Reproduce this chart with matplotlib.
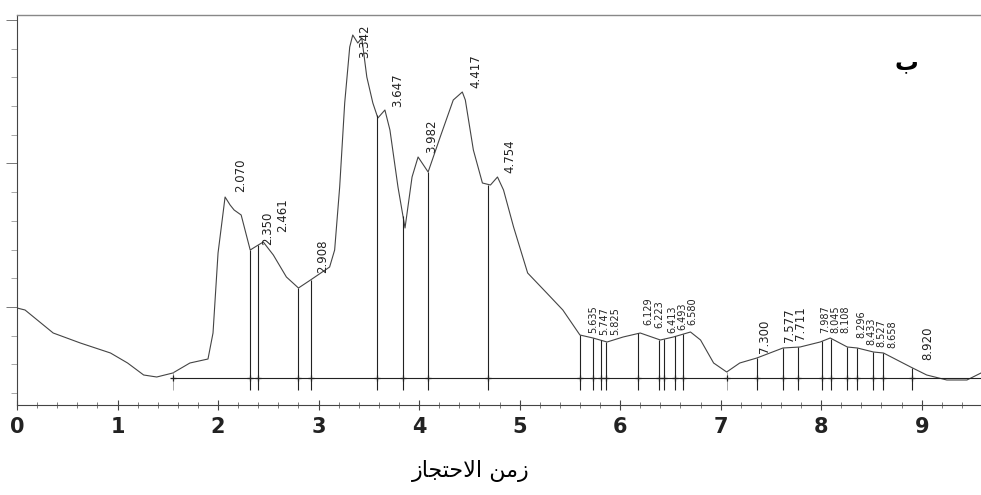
import numpy as np
import matplotlib
matplotlib.use('Agg')
import matplotlib.pyplot as plt
from matplotlib.ticker import MultipleLocator, NullFormatter

# chromatogram trace (time in min, signal in arbitrary units)
time = [0.00, 0.08, 0.36, 0.63, 0.93, 1.10, 1.26, 1.39, 1.55, 1.72, 1.90, 1.95,
        2.00, 2.07, 2.12, 2.16, 2.23, 2.32, 2.40, 2.45, 2.55, 2.68, 2.80, 2.92,
        3.11, 3.16, 3.21, 3.26, 3.31, 3.34, 3.39, 3.43, 3.48, 3.54, 3.59, 3.66,
        3.71, 3.79, 3.86, 3.93, 3.99, 4.09, 4.21, 4.34, 4.43, 4.46, 4.54, 4.63,
        4.71, 4.78, 4.84, 4.94, 5.08, 5.27, 5.43, 5.60, 5.73, 5.87, 6.03, 6.20,
        6.40, 6.53, 6.70, 6.80, 6.93, 7.06, 7.19, 7.36, 7.62, 7.79, 7.99, 8.09,
        8.26, 8.36, 8.52, 8.62, 8.89, 9.05, 9.25, 9.45, 9.59]
signal = [97, 95, 72, 62, 52, 42, 30, 28, 32, 42, 46, 72,
          152, 208, 200, 195, 190, 155, 160, 163, 150, 128, 117, 125,
          138, 155, 218, 302, 358, 370, 362, 367, 328, 302, 287, 295,
          275, 218, 177, 228, 248, 233, 268, 305, 313, 305, 255, 222,
          220, 228, 215, 178, 132, 112, 95, 70, 67, 63, 68, 72,
          65, 68, 73, 65, 42, 33, 42, 47, 57, 58, 63, 67,
          58, 57, 53, 52, 38, 30, 25, 25, 32]

# integration drop lines and baseline
drop_times = [2.32, 2.40, 2.80, 2.92, 3.58, 3.84, 4.09, 4.69, 5.60, 5.73, 5.81,
              5.86, 6.18, 6.39, 6.44, 6.55, 6.63, 7.36, 7.62, 7.77, 8.01, 8.10,
              8.26, 8.36, 8.52, 8.62, 8.90]
extra_marks = [1.55, 7.06]
baseline_level = 27
baseline_start = 1.55

# peak retention time labels: text, x position, y of label foot
peak_labels = ['2.070', '2.350', '2.461', '2.908', '3.342', '3.647', '3.982',
               '4.417', '4.754', '5.635', '5.747', '5.825', '6.129', '6.223',
               '6.413', '6.493', '6.580', '7.300', '7.577', '7.711', '7.987',
               '8.045', '8.108', '8.296', '8.433', '8.527', '8.658', '8.920']
label_x = [2.22, 2.49, 2.64, 3.04, 3.46, 3.79, 4.13, 4.56, 4.90, 5.73, 5.84,
           5.95, 6.28, 6.39, 6.52, 6.62, 6.72, 7.44, 7.68, 7.79, 8.04, 8.14,
           8.24, 8.40, 8.50, 8.60, 8.71, 9.06]
label_y = [213, 160, 173, 132, 347, 298, 252, 317, 232, 72, 70, 70, 80, 77,
           72, 75, 80, 52, 63, 65, 72, 72, 72, 67, 60, 58, 57, 45]
dense = {'5.635', '5.747', '5.825', '6.129', '6.223', '6.413', '6.493', '6.580',
         '7.987', '8.045', '8.108', '8.296', '8.433', '8.527', '8.658'}

# "زمن الاحتجاز" written in shaped presentation forms, visual order
xlabel_text = '\ufeaf\ufe8e\ufea0\ufe98\ufea3\ufefb\ufe8d \ufee6\ufee3\ufeaf'
panel_tag = 'ب'

fig = plt.figure(figsize=(9.81, 4.95), dpi=100)
ax = fig.add_axes([17 / 981, 90 / 495, 1 - 17 / 981, 390 / 495])

ax.plot(time, signal, color='#444444', lw=0.8)

tops = np.interp(drop_times, time, signal)
ax.vlines(drop_times, 15, tops, color='#222222', lw=0.8)
ax.hlines(baseline_level, baseline_start, 9.59, color='#222222', lw=0.8)
ax.vlines(extra_marks, 15, baseline_level + 6, color='#999999', lw=0.6)
ax.plot(drop_times + extra_marks, [baseline_level] * (len(drop_times) + len(extra_marks)),
        linestyle='none', marker='+', color='#222222', ms=5, mew=0.9)

for txt, x, y in zip(peak_labels, label_x, label_y):
    ax.text(x, y, txt, rotation=90, ha='center', va='bottom',
            fontsize=7 if txt in dense else 8.5, color='#222222')

ax.text(8.85, 343, panel_tag, fontsize=17, fontweight='bold',
        family=['DejaVu Sans'], ha='center', va='center')

ax.set_xlim(0, 9.59)
ax.set_ylim(0, 390)

ax.spines['right'].set_visible(False)
ax.spines['top'].set_color('#888888')
ax.spines['top'].set_linewidth(1.0)
ax.spines['left'].set_color('#444444')
ax.spines['bottom'].set_color('#444444')
ax.spines['left'].set_linewidth(0.8)
ax.spines['bottom'].set_linewidth(0.8)

ax.xaxis.set_major_locator(MultipleLocator(1))
ax.xaxis.set_minor_locator(MultipleLocator(0.2))
ax.tick_params(axis='x', which='major', direction='inout', length=7, width=0.8,
               color='#444444', pad=5, labelsize=15, labelcolor='#222222')
ax.tick_params(axis='x', which='minor', direction='inout', length=5, width=0.6,
               color='#666666')
for lbl in ax.get_xticklabels():
    lbl.set_fontweight('bold')

yt = [12 + 28.7 * k for k in range(14)]
ax.set_yticks([yt[3], yt[8], yt[13]])
ax.set_yticks(yt, minor=True)
ax.yaxis.set_major_formatter(NullFormatter())
ax.tick_params(axis='y', which='major', direction='out', length=8, width=0.7,
               color='#777777')
ax.tick_params(axis='y', which='minor', direction='out', length=4, width=0.6,
               color='#999999')

fig.text(471 / 981, 0.048, xlabel_text, fontsize=16, ha='center', va='center',
         family=['DejaVu Sans'])

fig.savefig('out.png', dpi=100)
